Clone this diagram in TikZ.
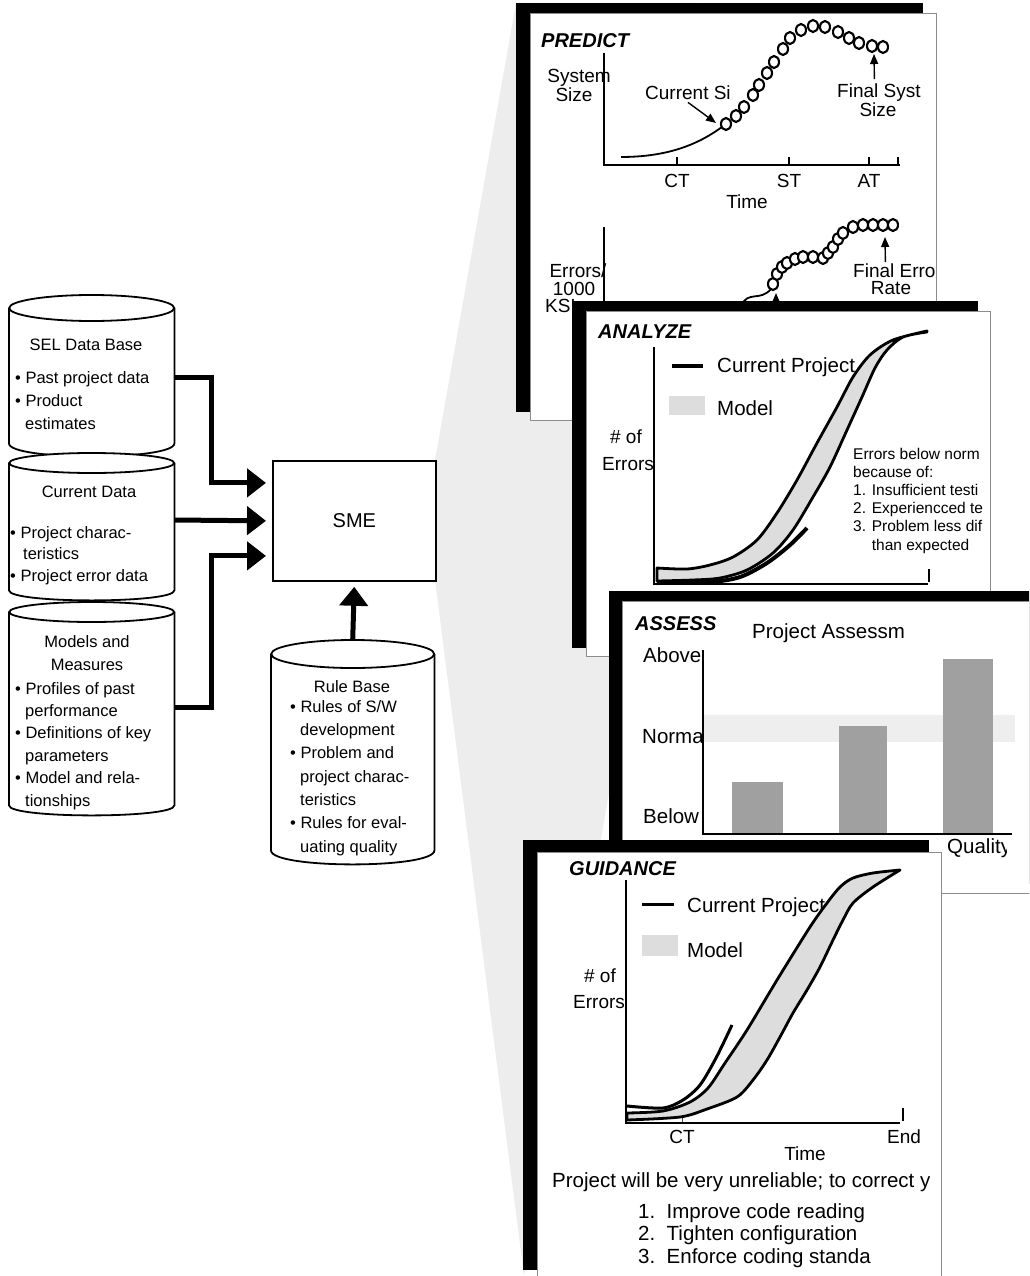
\documentclass[tikz,border=0pt]{standalone}
\usepackage{fontspec}
\setmainfont{Liberation Sans}
\usetikzlibrary{arrows.meta,positioning}
\definecolor{semshade}{HTML}{EDEDED}
\definecolor{semband}{HTML}{DDDDDD}
\definecolor{semnorm}{HTML}{EEEEEE}
\definecolor{sembar}{HTML}{A0A0A0}
\definecolor{semedge}{HTML}{8C8C8C}
\tikzset{
  drumline/.style={draw=black, line width=1.8pt},
  drumhead/.style={inner sep=0pt, anchor=base, align=center, font=\fontsize{16.5}{23}\selectfont},
  drumlist/.style={inner sep=0pt, anchor=base west, align=left, font=\fontsize{16.5}{23}\selectfont},
  feed/.style={line width=5pt, -{Triangle[length=19pt, width=28pt]}, shorten >=6pt},
  shadowbox/.style={fill=black},
  panelbox/.style={draw=semedge, line width=1pt, fill=white},
  ttl/.style={inner sep=0pt, anchor=base west, font=\fontsize{20}{24}\selectfont\bfseries\itshape},
  lbl/.style={inner sep=0pt, anchor=base, font=\fontsize{19}{19}\selectfont},
  lblw/.style={lbl, anchor=base west},
  big/.style={inner sep=0pt, anchor=base west, align=left, font=\fontsize{20.5}{22.5}\selectfont},
  note/.style={inner sep=0pt, anchor=base west, align=left, font=\fontsize{15.5}{18.2}\selectfont},
  axis/.style={line width=2pt},
  tick/.style={line width=1pt, draw=black!70},
  ring/.style={draw=black, line width=2.1pt, fill=white},
  ptr/.style={line width=1.4pt, -{Triangle[length=10pt, width=8pt]}},
  curve/.style={line width=3.5pt},
  band/.style={fill=semband, draw=black, line width=2.8pt, line join=round},
}
% name, x left, width, y top, y bottom, ellipse radius
\newcommand\drum[6]{%
  \node[inner sep=0pt, minimum width=#3, minimum height=#5-#4, anchor=north west] (#1) at (#2,#4) {};
  \fill[white] (#1.north west) -- (#1.south west) .. controls +(0,4*#6/3) and +(0,4*#6/3) .. (#1.south east) -- (#1.north east) -- cycle;
  \draw[drumline] (#1.north west) -- (#1.south west) .. controls +(0,4*#6/3) and +(0,4*#6/3) .. (#1.south east) -- (#1.north east);
  \filldraw[drumline, fill=white] (#1.north) ellipse [x radius=#3/2, y radius=#6];
}
\begin{document}
\begin{tikzpicture}[x=1pt, y=-1pt]
  \clip (0,0) rectangle (1029,1276);
  % fan behind the panels
  \fill[semshade] (435,460) -- (516,3) -- (700,3) -- (650,560) -- (524,1276) -- (435,580) -- cycle;

  % data stores (multi-line texts sit on their last baseline)
  \drum{seldb}{9}{165}{308}{443}{13}
  \node[drumhead] (seldbt) at (86,350) {SEL Data Base};
  \node[drumlist] (seldbl) at (15,429) {\textbullet\ Past project data\\\textbullet\ Product\\\hspace*{10pt}estimates};
  \drum{curdata}{9}{165}{463}{590}{10}
  \node[drumhead] (curdatat) at (89,497) {Current Data};
  \node[drumlist, font=\fontsize{16.5}{21.5}\selectfont] (curdatal) at (10,581) {\textbullet\ Project charac-\\\hspace*{13pt}teristics\\\textbullet\ Project error data};
  \drum{models}{9}{165}{612}{805}{10}
  \node[drumhead] (modelst) at (87,670) {Models and\\Measures};
  \node[drumlist, font=\fontsize{16.5}{22.4}\selectfont] (modelsl) at (15,806) {\textbullet\ Profiles of past\\\hspace*{10pt}performance\\\textbullet\ Definitions of key\\\hspace*{10pt}parameters\\\textbullet\ Model and rela-\\\hspace*{10pt}tionships};

  \node[draw, line width=1.8pt, fill=white, minimum width=163, minimum height=120, anchor=north west, font=\fontsize{20}{24}\selectfont] (sme) at (272,460) {SME};

  \drum{rulebase}{271}{163}{654}{850}{14}
  \node[drumhead] (rulebaset) at (352,692) {Rule Base};
  \node[drumlist, font=\fontsize{16.5}{23.3}\selectfont] (rulebasel) at (290,852) {\textbullet\ Rules of S/W\\\hspace*{10pt}development\\\textbullet\ Problem and\\\hspace*{10pt}project charac-\\\hspace*{10pt}teristics\\\textbullet\ Rules for eval-\\\hspace*{10pt}uating quality};

  \draw[feed] ([yshift=-69pt]seldb.north east) -- ++(37,0) |- ([yshift=38pt]sme.west);
  \draw[feed] ([yshift=-57pt]curdata.north east) -- (sme.west);
  \draw[feed] ([yshift=-95pt]models.north east) -- ++(37,0) |- ([yshift=-35pt]sme.west);
  \draw[feed, shorten >=5pt] ([yshift=14pt]rulebase.north) -- (sme.south);

  % PREDICT
  \fill[shadowbox] (516,3) rectangle (923,412);
  \filldraw[panelbox] (530,14) rectangle (936,420);
  \begin{scope}
    \clip (530,14) rectangle (936,420);
    \node[ttl] (predt) at (541,48) {PREDICT};
    \node[lbl] (sysa) at (579,83) {System};
    \node[lbl] (sysb) at (574,102) {Size};
    \draw[axis] (604,53) -- (604,165) -- (900,165);
    \foreach \tx in {677,789,869,898} \draw[axis] (\tx,157) -- (\tx,165);
    \node[lbl] (pct) at (677,188) {CT};
    \node[lbl] (pst) at (789,188) {ST};
    \node[lbl] (pat) at (869,188) {AT};
    \node[lbl] (ptime) at (747,208) {Time};
    \draw[line width=1.8pt] (621,157) .. controls (675,157) and (705,140) .. (726,124);
    \foreach \rx/\ry in {726/124,736/116,744/107,753/95,759/85,767/73,774/62,783/49,790/38,801/30,813/26,825/27,838/32,849/38,859/43,872/46,883/47}
      \draw[ring] (\rx,\ry) ellipse [x radius=5, y radius=6];
    \node[lblw] (cursz) at (645,100) {Current Si};
    \coordinate (nowsz) at (716,123);
    \draw[ptr] ([yshift=-2pt]cursz.south) -- (nowsz);
    \node[lblw] (finsys) at (837,98) {Final Syst};
    \node[lbl] (finsysb) at (878,117) {Size};
    \coordinate (finsz) at (874,54);
    \draw[ptr] ([xshift=-4.5pt, yshift=5pt]finsys.north) -- (finsz);

    \node[lbl] (erra) at (578,277) {Errors/};
    \node[lbl] (errb) at (574,295) {1000};
    \node[lblw] (errc) at (545,312) {KSL};
    \draw[axis] (604,227) -- (604,330);
    \draw[line width=1.8pt] (741,306) .. controls (748,290) and (760,302) .. (771,289);
    \foreach \rx/\ry in {773/284,777/274,782/267,787/263,795/259,803/257,813/257,823/258,828/253,833/247,838/239,843/233,853/227,863/225,873/225,883/225,893/225}
      \draw[ring] (\rx,\ry) ellipse [x radius=5, y radius=6];
    \coordinate (errfoot) at (776,330);
    \coordinate (errpt) at (776,293);
    \draw[ptr] (errfoot) -- (errpt);
    \node[lblw] (finerr) at (853,277) {Final Erro};
    \node[lbl] (finerrb) at (891,294) {Rate};
    \coordinate (errtop) at (885,237);
    \draw[ptr] ([xshift=-9pt, yshift=1pt]finerr.north) -- (errtop);
  \end{scope}

  % ANALYZE
  \fill[shadowbox] (572,301) rectangle (978,648);
  \filldraw[panelbox] (586,311) rectangle (990,656);
  \begin{scope}
    \clip (586,311) rectangle (990,656);
    \node[ttl] (anat) at (598,338) {ANALYZE};
    \draw[line width=4pt] (672,366) -- (703,366);
    \node[big] (anacur) at (717,372) {Current Project};
    \fill[semband] (669,396) rectangle (705,415);
    \node[big] (anamod) at (717,415) {Model};
    \node[lbl] (anaof) at (626,443) {\# of};
    \node[lblw] (anaerr) at (602,470) {Errors};
    \draw[tick] (709,570) -- (709,584);
    \draw[line width=1.5pt] (929,569) -- (929,582);
    \filldraw[band] plot[smooth, tension=0.5] coordinates {(657,568) (687,569) (710,565) (733,557) (757,540) (777,513) (797,480) (817,443) (837,407) (853,377) (870,355) (893,340) (927,331)}
      -- plot[smooth, tension=0.5] coordinates {(927,332) (903,337) (887,350) (875,368) (862,397) (847,430) (830,467) (813,497) (793,530) (773,553) (747,570) (720,578) (693,580) (657,581)} -- cycle;
    \draw[curve, line width=4pt] plot[smooth, tension=0.5] coordinates {(657,583) (710,582) (740,577) (767,563) (790,545) (807,528)};
    \draw[axis] (654,347) -- (654,584) -- (928,584);
    \node[note] (ananote) at (853,550) {Errors below norm\\because of:\\1. Insufficient testi\\2. Experiencced te\\3. Problem less dif\\\phantom{3. }than expected};
  \end{scope}

  % ASSESS
  \fill[shadowbox] (609,591) rectangle (1040,884);
  \filldraw[panelbox] (622,601) rectangle (1045,893);
  \begin{scope}
    \clip (622,601) rectangle (1045,893);
    \node[ttl] (asst) at (635,630) {ASSESS};
    \node[big] (asshead) at (752,638) {Project Assessm};
    \fill[semnorm] (703,715) rectangle (1015,742);
    \node[big] (assab) at (643,662) {Above};
    \node[big] (assno) at (642,743) {Norma};
    \node[big] (assbe) at (643,823) {Below};
    \fill[sembar] (732,782) rectangle (783,834);
    \fill[sembar] (839,726) rectangle (887,834);
    \fill[sembar] (943,659) rectangle (993,834);
    \draw[axis] (703,650) -- (703,834) -- (1012,834);
    \begin{scope}
      \clip (940,836) rectangle (1006,870);
      \node[big] (assq) at (947,853) {Quality};
    \end{scope}
  \end{scope}

  % GUIDANCE
  \fill[shadowbox] (523,840) rectangle (929,1270);
  \filldraw[panelbox] (537,852) rectangle (941,1290);
  \begin{scope}
    \clip (537,852) rectangle (941,1290);
    \node[ttl] (guit) at (569,875) {GUIDANCE};
    \draw[line width=3pt] (642,904) -- (674,904);
    \node[big] (guicur) at (687,912) {Current Project};
    \fill[semband] (642,935) rectangle (678,956);
    \node[big] (guimod) at (687,957) {Model};
    \node[lbl] (guiof) at (600,982) {\# of};
    \node[lblw] (guierr) at (573,1008) {Errors};
    \draw[tick] (682,1108) -- (682,1123);
    \draw[line width=1.5pt] (903,1108) -- (903,1121);
    \filldraw[band] plot[smooth, tension=0.5] coordinates {(627,1113) (663,1111) (690,1102) (708,1088) (725,1063) (747,1030) (777,980) (810,927) (827,903) (840,887) (853,878) (873,873) (900,870)}
      -- plot[smooth, tension=0.5] coordinates {(900,870) (873,887) (853,903) (843,920) (833,940) (820,967) (807,990) (793,1013) (780,1037) (767,1060) (753,1080) (737,1097) (707,1109) (680,1117) (627,1120)} -- cycle;
    \draw[curve, line width=3pt] plot[smooth, tension=0.5] coordinates {(627,1106) (663,1108) (683,1100) (700,1085) (716,1058) (732,1025)};
    \draw[axis] (626,880) -- (626,1123) -- (900,1123);
    \node[lbl] (guict) at (682,1143) {CT};
    \node[lbl] (guiend) at (904,1143) {End};
    \node[lbl] (guitime) at (805,1160) {Time};
    \node[big] (guisay) at (552,1187) {Project will be very unreliable; to correct y};
    \node[big] (guilist) at (638,1263) {1.~~Improve code reading\\2.~~Tighten configuration\\3.~~Enforce coding standa};
  \end{scope}
\end{tikzpicture}
\end{document}
